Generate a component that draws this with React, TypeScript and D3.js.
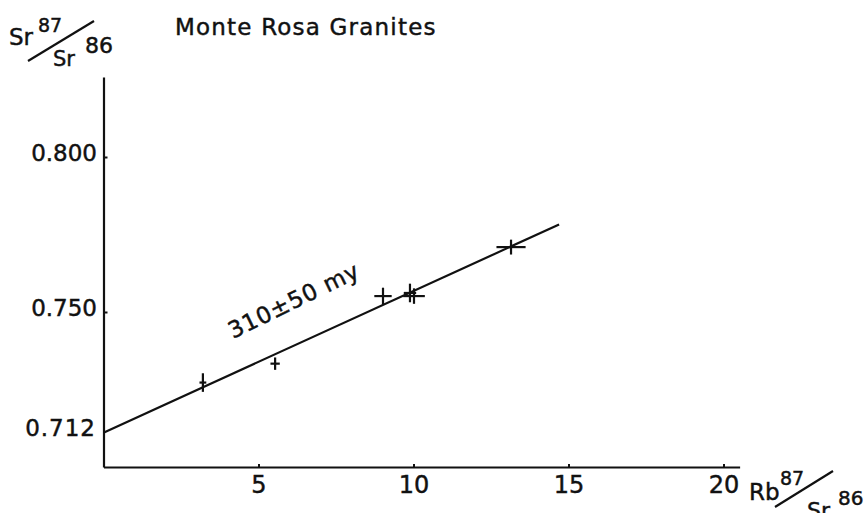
import React from "react";
import * as d3 from "d3";

const W = 867;
const H = 513;

// Data
const rbSr = [3.19, 5.52, 9.0, 9.87, 10.0, 13.13];
const srSr = [0.7274, 0.7335, 0.7553, 0.7563, 0.7553, 0.7711];
const rbErr = [0.11, 0.15, 0.28, 0.2, 0.35, 0.47];
const srErr = [0.003, 0.002, 0.0027, 0.003, 0.0025, 0.0024];

const isoX = [0, 14.68];
const isoY = [0.7113, 0.7784];

const xTicks = [5, 10, 15, 20];
const yTicks = [0.8, 0.75];
const yTickLabels = ["0.800", "0.750"];
const interceptValue = 0.712;
const interceptLabel = "0.712";
const title = "Monte Rosa Granites";
const ageLabel = "310±50 my";

const FONT = "'DejaVu Sans', sans-serif";
const INK = "#111";
const TS = 0.45; // text stroke for heavier lettering

export default function App() {
  const x = d3.scaleLinear().domain([0, 20]).range([104, 724]);
  const y = d3.scaleLinear().domain([0.7, 0.8]).range([467.5, 157.5]);

  const line = d3
    .line<number>()
    .x((_, i) => x(isoX[i]))
    .y((d) => y(d));

  const x0 = x(0);
  const yBase = y(0.7);
  const yTop = y(0.8258);
  const xEnd = x(20.52);

  const ang =
    (Math.atan2(y(isoY[1]) - y(isoY[0]), x(isoX[1]) - x(isoX[0])) * 180) /
    Math.PI;

  return (
    <svg
      width={W}
      height={H}
      style={{ position: "absolute", left: 0, top: 0, background: "#fff" }}
      fontFamily={FONT}
    >
      <rect x={0} y={0} width={W} height={H} fill="#fff" />
      <g fill={INK} stroke={INK} strokeWidth={TS}>
        {/* title */}
        <text x={175} y={35} fontSize={23} letterSpacing={1.2}>
          {title}
        </text>

        {/* y axis label */}
        <text x={9} y={45} fontSize={23}>Sr</text>
        <text x={38} y={32} fontSize={19}>87</text>
        <text x={53} y={66} fontSize={21}>Sr</text>
        <text x={85} y={53} fontSize={22}>86</text>

        {/* x axis label */}
        <text x={749} y={500} fontSize={23}>Rb</text>
        <text x={780} y={485} fontSize={19}>87</text>
        <text x={807} y={518} fontSize={22}>Sr</text>
        <text x={838} y={505} fontSize={20}>86</text>
      </g>
      <line x1={28} y1={61} x2={94} y2={21} stroke={INK} strokeWidth={2.2} />
      <line x1={775} y1={507} x2={833} y2={471} stroke={INK} strokeWidth={2.2} />

      {/* axes */}
      <line x1={x0} y1={yTop} x2={x0} y2={yBase} stroke={INK} strokeWidth={2.2} />
      <line x1={x0} y1={yBase} x2={xEnd} y2={yBase} stroke={INK} strokeWidth={2.2} />

      {xTicks.map((t) => (
        <g key={"xt" + t}>
          <line x1={x(t)} y1={yBase} x2={x(t)} y2={yBase - 3.5} stroke={INK} strokeWidth={2} />
          <text
            x={x(t)}
            y={493}
            fontSize={24}
            textAnchor="middle"
            fill={INK}
            stroke={INK}
            strokeWidth={TS}
          >
            {t}
          </text>
        </g>
      ))}

      {yTicks.map((t, i) => (
        <g key={"yt" + t}>
          <line x1={x0} y1={y(t)} x2={x0 + 3.5} y2={y(t)} stroke={INK} strokeWidth={2} />
          <text
            x={97}
            y={y(t) + 3}
            fontSize={23}
            textAnchor="end"
            fill={INK}
            stroke={INK}
            strokeWidth={TS}
          >
            {yTickLabels[i]}
          </text>
        </g>
      ))}
      <text
        x={96}
        y={y(interceptValue) + 6}
        fontSize={23}
        textAnchor="end"
        fill={INK}
        stroke={INK}
        strokeWidth={TS}
        letterSpacing={1}
      >
        {interceptLabel}
      </text>

      {/* isochron */}
      <path d={line(isoY) || ""} fill="none" stroke={INK} strokeWidth={2.2} />
      <text
        transform={`translate(233,339) rotate(${ang - 1.5})`}
        fontSize={23}
        fill={INK}
        stroke={INK}
        strokeWidth={TS}
        letterSpacing={0.8}
      >
        {ageLabel}
      </text>

      {/* data points with error crosses */}
      {rbSr.map((v, i) => (
        <g key={"p" + i} stroke={INK} strokeWidth={2.2}>
          <line x1={x(v - rbErr[i])} y1={y(srSr[i])} x2={x(v + rbErr[i])} y2={y(srSr[i])} />
          <line x1={x(v)} y1={y(srSr[i] - srErr[i])} x2={x(v)} y2={y(srSr[i] + srErr[i])} />
        </g>
      ))}
    </svg>
  );
}
